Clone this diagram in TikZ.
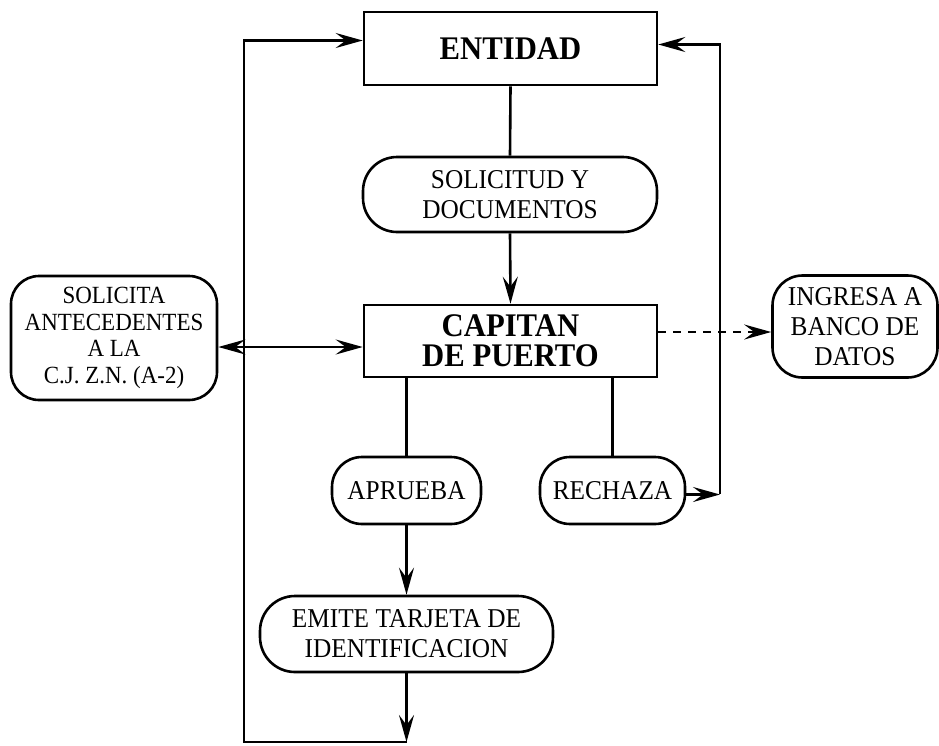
\documentclass[tikz,border=0pt]{standalone}
\usepackage{fontspec}
\setmainfont{Liberation Serif}[FakeStretch=0.93]
\usetikzlibrary{arrows.meta}
\begin{document}
\begin{tikzpicture}[x=1pt,y=-1pt,
  line width=2.6pt,
  >={Stealth[length=27pt,width=15pt,inset=10pt]},
  box/.style={draw, inner sep=0pt, align=center, font=\fontsize{27.2}{30}\selectfont},
  bbox/.style={draw, inner sep=0pt, align=center, font=\bfseries\fontsize{33}{30}\selectfont},
  rbox/.style={box, rounded corners=#1},
  dline/.style={dashed, dash pattern=on 8pt off 7pt}
]
\useasboundingbox[fill=white] (0,0) rectangle (939,745);
\node[bbox, minimum width=293pt, minimum height=73pt] (ent) at (510.5,48.5) {ENTIDAD};
\node[rbox=34pt, minimum width=294pt, minimum height=75pt] (sol) at (510,194.5) {SOLICITUD Y\\DOCUMENTOS};
\node[bbox, minimum width=293pt, minimum height=72pt] (cap) at (510.5,341) {CAPITAN\\DE PUERTO};
\node[rbox=28pt, minimum width=206pt, minimum height=124pt, font=\fontsize{24.7}{26.5}\selectfont] (solic) at (114,338) {SOLICITA\\ANTECEDENTES\\A LA\\C.J. Z.N. (A-2)};
\node[rbox=30pt, minimum width=165pt, minimum height=102pt] (ing) at (855,326.5) {INGRESA A\\BANCO DE\\DATOS};
\node[rbox=30pt, minimum width=149pt, minimum height=67pt] (apr) at (406.5,490.5) {APRUEBA};
\node[rbox=30pt, minimum width=145pt, minimum height=67pt] (rec) at (612.5,490.5) {RECHAZA};
\node[rbox=35pt, minimum width=293pt, minimum height=76pt] (emi) at (406.5,634) {EMITE TARJETA DE\\IDENTIFICACION};
\coordinate (bl) at (244,742);
\coordinate (br) at (406.5,742);
\coordinate (rr) at (720,494);
\coordinate (sl) at ([yshift=-9pt]solic.east);
\coordinate (cd) at ([yshift=9pt]cap.east);
\coordinate (rs) at ([yshift=-4pt]rec.east);
\coordinate (ea) at ([yshift=4pt]ent.east);
\coordinate (ew) at ([yshift=8pt]ent.west);
\draw (ent.south) -- (sol.north);
\draw[->] (sol.south) -- (cap.north);
\draw[<->] (sl) -- (sl -| cap.west);
\draw[dline,->] (cd) -- (cd -| ing.west);
\draw (apr.north |- cap.south) -- (apr.north);
\draw (rec.north |- cap.south) -- (rec.north);
\draw[->] (apr.south) -- (emi.north);
\draw[->] (emi.south) -- (br);
\draw[->] (br) -- (bl) |- (ew);
\draw[->] (rs) -- (rs -| rr);
\draw[->] (rr) |- (ea);
\end{tikzpicture}
\end{document}
